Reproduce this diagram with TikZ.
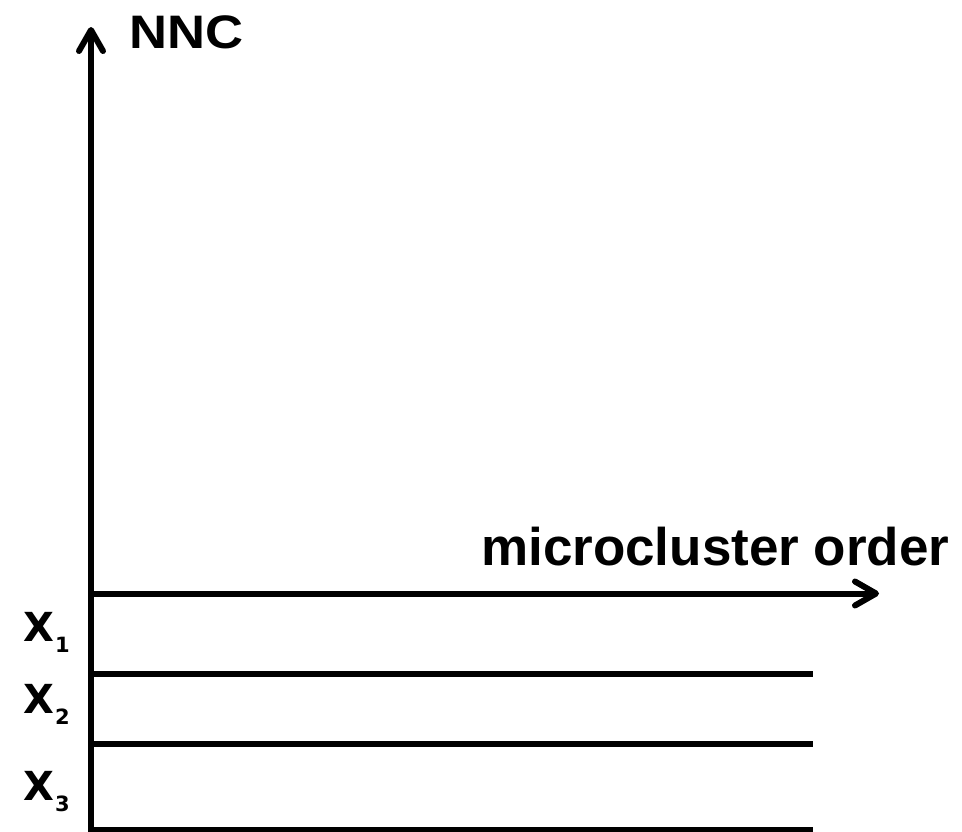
\documentclass[tikz,border=0pt]{standalone}
\usepackage{fontspec}
\setmainfont{Liberation Sans}
\newfontfamily\labelfont{DejaVu Sans}
\usetikzlibrary{arrows.meta}
\begin{document}
\begin{tikzpicture}[x=1pt,y=-1pt,
  axis/.style={line width=6pt,
    -{Straight Barb[length=21pt,width=24pt,round]}},
  band/.style={line width=5.5pt},
  axislabel/.style={inner sep=0pt, font=\bfseries},
  varlabel/.style={inner sep=0pt, anchor=base west, font=\labelfont\bfseries\fontsize{40}{40}\selectfont}
]
\useasboundingbox (0,0) rectangle (962,831);

% axes
\coordinate (vbot) at (91,834);
\coordinate (vtop) at (91,27);
\coordinate (hstart) at (88,593.5);
\coordinate (hend) at (879,593.5);
\draw[axis] (vbot) -- (vtop);
\draw[axis] (hstart) -- (hend);

% axis labels
\node[axislabel, anchor=base west] (nnc) at (129,48)
  {\fontsize{47}{47}\selectfont\scalebox{1.12}[1]{NNC}};
\node[axislabel, anchor=base west] (order) at (481,565)
  {\fontsize{53}{53}\selectfont microcluster order};

% band boundaries
\coordinate (b1s) at (91,674);  \coordinate (b1e) at (813,674);
\coordinate (b2s) at (91,744);  \coordinate (b2e) at (813,744);
\coordinate (b3s) at (91,829.5);\coordinate (b3e) at (813,829.5);
\draw[band] (b1s) -- (b1e);
\draw[band] (b2s) -- (b2e);
\draw[band] (b3s) -- (b3e);

% band labels
\newcommand{\varlab}[1]{X\kern1pt\raisebox{-11pt}{\fontsize{21}{21}\selectfont #1}}
\node[varlabel] (x1) at (23,641) {\varlab{1}};
\node[varlabel] (x2) at (23,713) {\varlab{2}};
\node[varlabel] (x3) at (23,800) {\varlab{3}};
\end{tikzpicture}
\end{document}
